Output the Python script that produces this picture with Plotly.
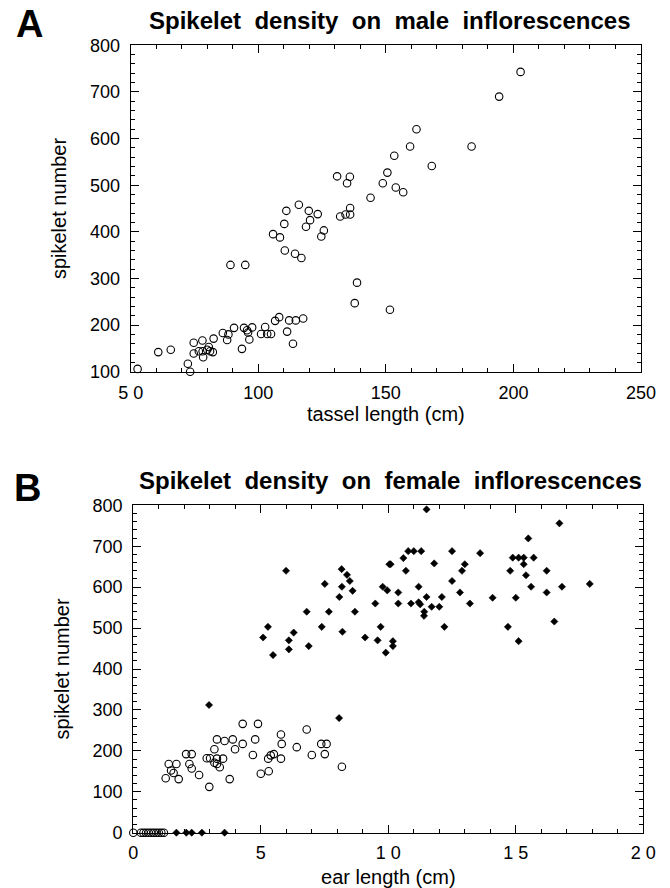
import plotly.graph_objects as go

# ---------------- Data ----------------
# Panel A: tassel length (cm) vs spikelet number (open circles)
tassel_length = [52.7, 73.3, 72.4, 60.8, 65.7, 74.7, 74.7, 78.1, 76.7, 78.2, 80.0, 81.1, 78.4, 82.2,
                 80.6, 82.5, 86.1, 87.8, 88.3, 90.5, 93.6, 94.4, 95.6, 96.0, 97.6, 96.5, 101.1, 103.5,
                 105.0, 102.7, 106.6, 108.2, 111.3, 112.1, 114.7, 117.6, 113.6,
                 89.1, 94.9, 110.4, 114.4, 116.9, 105.8, 108.5, 110.2, 118.7, 120.3, 124.7, 125.7,
                 111.0, 119.8, 115.9, 123.3, 132.1, 134.2, 136.0, 136.0, 134.8, 130.9, 135.9, 144.0,
                 148.8, 150.6, 153.9, 156.8, 153.3, 159.5, 162.0, 168.0, 183.6, 194.4, 202.8,
                 138.7, 137.8, 151.6]
tassel_spikelets = [106, 100, 117, 142, 147, 162, 139, 167, 144, 144, 147, 144, 131, 142,
                    153, 171, 183, 168, 180, 194, 149, 194, 189, 184, 195, 169, 181, 181,
                    181, 196, 209, 217, 186, 210, 210, 214, 160,
                    329, 329, 360, 353, 344, 395, 388, 417, 411, 425, 390, 403,
                    445, 445, 458, 438, 433, 437, 437, 451, 504, 519, 518, 473,
                    504, 527, 495, 485, 563, 583, 620, 541, 583, 690, 743,
                    291, 247, 233]

# Panel B: ear length (cm) vs spikelet number
# open circles
ear_open_length = [4.29, 4.89, 6.80, 5.79, 3.28, 3.58, 3.90, 4.78, 4.29, 3.99, 3.18, 5.82, 6.41,
                   7.37, 7.58, 2.07, 2.29, 4.69, 5.51, 5.39, 5.29, 7.00, 7.51, 2.88, 3.01, 3.52,
                   3.28, 5.79, 1.39, 1.69, 2.20, 3.18, 3.28, 3.39, 2.29, 1.48, 1.58, 1.27, 1.78,
                   2.58, 3.78, 5.00, 5.31, 8.18, 2.98,
                   0.0, 0.3, 0.4, 0.5, 0.6, 0.7, 0.8, 0.9, 1.0, 1.1, 1.2]
ear_open_spikelets = [266, 266, 252, 240, 228, 224, 228, 228, 217, 204, 204, 217, 209,
                      217, 217, 192, 192, 190, 192, 189, 181, 190, 192, 182, 182, 181,
                      181, 181, 168, 168, 168, 171, 168, 160, 157, 152, 146, 133, 131,
                      141, 131, 144, 150, 161, 112,
                      0, 0, 0, 0, 0, 0, 0, 0, 0, 0, 0]
# filled diamonds
ear_filled_length = [5.99, 8.17, 8.38, 8.49, 7.51, 8.18, 8.60, 8.08, 9.49, 9.78, 9.96, 10.04,
                     6.80, 7.67, 8.69, 5.28, 7.39, 9.70, 5.09, 6.29, 6.10, 8.20, 9.09, 9.58,
                     6.10, 6.88, 5.48, 9.90,
                     11.50, 16.71, 15.49, 14.88, 15.11, 15.31, 15.70, 15.31, 10.78, 11.00, 11.29,
                     10.59, 10.09, 12.50, 13.60, 11.80, 13.00, 12.89, 10.69, 14.78, 16.21, 15.40,
                     12.50, 10.39, 11.19, 12.81, 15.60, 16.81, 17.90, 16.21, 11.50, 12.10, 14.09,
                     15.00, 10.39, 10.89, 11.19, 11.25, 13.20, 11.70, 12.00, 11.41, 11.40, 12.20,
                     14.69, 16.51, 10.18, 10.18, 15.11,
                     2.97, 8.07,
                     1.69, 2.08, 2.29, 2.69, 3.58]
ear_filled_spikelets = [640, 644, 630, 615, 608, 601, 591, 576, 560, 601, 592, 656,
                        540, 540, 540, 503, 503, 503, 477, 489, 470, 491, 477, 470,
                        448, 456, 434, 440,
                        790, 756, 719, 672, 672, 672, 672, 656, 688, 688, 688,
                        671, 656, 688, 683, 658, 656, 640, 640, 640, 640, 629,
                        615, 587, 601, 587, 601, 601, 608, 587, 576, 576, 574,
                        574, 560, 560, 563, 558, 560, 552, 552, 540, 530, 503,
                        503, 516, 468, 456, 468,
                        312, 280,
                        0, 0, 0, 0, 0]

# Tick labels
a_xticks = [50, 100, 150, 200, 250]
a_xticktext = ["5 0", "100", "150", "200", "250"]
a_yticks = [100, 200, 300, 400, 500, 600, 700, 800]
b_xticks = [0, 5, 10, 15, 20]
b_xticktext = ["0", "5", "1 0", "1 5", "2 0"]
b_yticks = [0, 100, 200, 300, 400, 500, 600, 700, 800]

# Titles
title_a = "Spikelet\u00a0 density\u00a0 on\u00a0 male\u00a0 inflorescences"
title_b = "Spikelet\u00a0 density\u00a0 on\u00a0 female\u00a0 inflorescences"

# ---------------- Figure ----------------
# The page body has an 8 px margin; the figure is offset so page coordinates match.
OFF = 8
W, H = 654, 880
FONT = "Liberation Sans, Arial, Helvetica, sans-serif"

def px_x(p):
    return (p - OFF) / W

def px_y(p):
    return 1 - (p - OFF) / H

fig = go.Figure()

circle = dict(symbol="circle-open", size=7.5, color="black", line=dict(color="black", width=1.1))
diamond = dict(symbol="diamond", size=5.5, color="black", line=dict(color="black", width=0.6))

fig.add_trace(go.Scatter(x=tassel_length, y=tassel_spikelets, mode="markers", marker=circle,
                         xaxis="x", yaxis="y", cliponaxis=False, showlegend=False))
fig.add_trace(go.Scatter(x=ear_open_length, y=ear_open_spikelets, mode="markers", marker=circle,
                         xaxis="x2", yaxis="y2", cliponaxis=False, showlegend=False))
fig.add_trace(go.Scatter(x=ear_filled_length, y=ear_filled_spikelets, mode="markers", marker=diamond,
                         xaxis="x2", yaxis="y2", cliponaxis=False, showlegend=False))

tickfont = dict(family=FONT, size=18, color="black")
titlefont = dict(family=FONT, size=20, color="black")

def axis_common(minor_dtick):
    return dict(
        showline=True, linecolor="black", linewidth=1.2, mirror="ticks",
        ticks="inside", ticklen=8, tickwidth=1, tickcolor="black",
        showgrid=False, zeroline=False, tickfont=tickfont,
        minor=dict(ticks="inside", ticklen=4, tickwidth=1, tickcolor="black", dtick=minor_dtick, showgrid=False),
        automargin=False,
    )

fig.update_layout(
    width=W, height=H,
    margin=dict(l=0, r=0, t=0, b=0),
    paper_bgcolor="white", plot_bgcolor="white",
    font=dict(family=FONT, color="black"),
    xaxis=dict(axis_common(10), range=[50, 250], tickmode="array", tickvals=a_xticks, ticktext=a_xticktext,
               domain=[px_x(130.7), px_x(641)], anchor="y", ticklabelstandoff=5,
               title=dict(text="tassel length (cm)", font=titlefont, standoff=2)),
    yaxis=dict(axis_common(20), range=[100, 800], tickmode="array", tickvals=a_yticks,
               domain=[px_y(371.7), px_y(45.3)], anchor="x", ticklabelstandoff=6,
               title=dict(text="spikelet number", font=titlefont, standoff=17)),
    xaxis2=dict(axis_common(1), range=[0, 20], tickmode="array", tickvals=b_xticks, ticktext=b_xticktext,
                domain=[px_x(133.3), px_x(643.3)], anchor="y2", ticklabelstandoff=4,
                title=dict(text="ear length (cm)", font=titlefont, standoff=14)),
    yaxis2=dict(axis_common(20), range=[0, 800], tickmode="array", tickvals=b_yticks,
                domain=[px_y(832.7), px_y(505.3)], anchor="x2", ticklabelstandoff=6,
                title=dict(text="spikelet number", font=titlefont, standoff=17)),
    annotations=[
        dict(text="<b>A</b>", x=px_x(29), y=px_y(24), xref="paper", yref="paper", showarrow=False,
             xanchor="center", yanchor="middle", font=dict(family=FONT, size=38, color="black")),
        dict(text="<b>B</b>", x=px_x(27), y=px_y(488), xref="paper", yref="paper", showarrow=False,
             xanchor="center", yanchor="middle", font=dict(family=FONT, size=38, color="black")),
        dict(text="<b>" + title_a + "</b>", x=px_x(390), y=px_y(20), xref="paper", yref="paper",
             showarrow=False, xanchor="center", yanchor="middle", font=dict(family=FONT, size=24, color="black")),
        dict(text="<b>" + title_b + "</b>", x=px_x(390), y=px_y(480), xref="paper", yref="paper",
             showarrow=False, xanchor="center", yanchor="middle", font=dict(family=FONT, size=24, color="black")),
    ],
)

fig.write_html("out.html")
